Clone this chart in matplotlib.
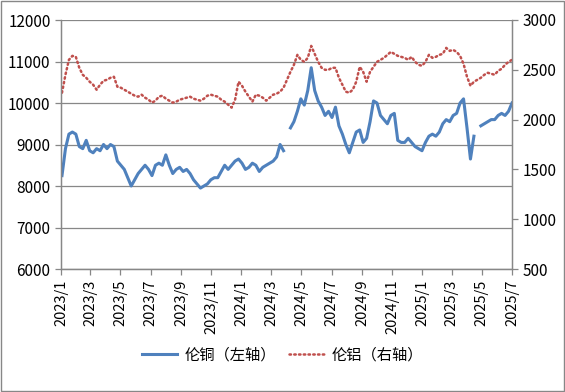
import matplotlib
matplotlib.use("Agg")
import matplotlib.pyplot as plt
import numpy as np
import pandas as pd

plt.rcParams['font.family'] = ['Noto Sans CJK SC', 'DejaVu Sans']

# weekly readings, 2023-01-03 .. 2025-07-01
dates = pd.date_range("2023-01-03", periods=131, freq="7D")

copper = [
    8250, 8900, 9250, 9300, 9250, 8950, 8900, 9100, 8850, 8800,
    8900, 8850, 9000, 8900, 9000, 8950, 8600, 8500, 8400, 8200,
    8000, 8150, 8300, 8400, 8500, 8400, 8250, 8500, 8550, 8500,
    8750, 8500, 8300, 8400, 8450, 8350, 8400, 8300, 8150, 8050,
    7950, 8000, 8050, 8150, 8200, 8200, 8350, 8500, 8400, 8500,
    8600, 8650, 8550, 8400, 8450, 8550, 8500, 8350, 8450, 8500,
    8550, 8600, 8700, 9000, 8850, np.nan, 9400, 9550, 9800, 10100,
    9950, 10300, 10850, 10300, 10050, 9900, 9700, 9800, 9650, 9900,
    9450, 9250, 9000, 8800, 9050, 9300, 9350, 9050, 9150, 9550,
    10050, 10000, 9700, 9600, 9500, 9700, 9750, 9100, 9050, 9050,
    9150, 9050, 8950, 8900, 8850, 9050, 9200, 9250, 9200, 9300,
    9500, 9600, 9550, 9700, 9750, 10000, 10100, 9400, 8650, 9200,
    np.nan, 9450, 9500, 9550, 9600, 9600, 9700, 9750, 9700, 9800,
    10000,
]

aluminium = [
    2270, 2450, 2600, 2640, 2630, 2520, 2450, 2420, 2380, 2350,
    2300, 2350, 2390, 2400, 2420, 2430, 2330, 2320, 2300, 2280,
    2260, 2240, 2230, 2250, 2220, 2200, 2170, 2190, 2230, 2240,
    2210, 2190, 2170, 2180, 2200, 2210, 2220, 2230, 2210, 2200,
    2190, 2210, 2240, 2250, 2240, 2230, 2200, 2180, 2150, 2120,
    2200, 2380, 2340, 2280, 2230, 2180, 2250, 2240, 2220, 2190,
    2220, 2250, 2260, 2280, 2320, 2400, 2480, 2550, 2650, 2600,
    2580, 2620, 2740, 2660, 2580, 2520, 2500, 2500, 2520, 2520,
    2420, 2350, 2280, 2270, 2300, 2380, 2530, 2480, 2380, 2480,
    2530, 2580, 2600, 2620, 2650, 2680, 2660, 2640, 2630, 2620,
    2600, 2630, 2580, 2550, 2540, 2580, 2650, 2620, 2630, 2650,
    2660, 2720, 2690, 2700, 2680, 2640, 2560, 2430, 2340, 2380,
    2400, 2420, 2450, 2470, 2460, 2450, 2490, 2510, 2550, 2580,
    2600,
]

BLUE = "#4F81BD"
RED = "#C0504D"
GRID = "#878787"

fig = plt.figure(figsize=(5.65, 3.92), dpi=100)
ax = fig.add_axes([61 / 565, 1 - 269 / 392, 451 / 565, 249 / 392])
ax2 = ax.twinx()

l1, = ax.plot(dates, copper, color=BLUE, lw=2.2, solid_joinstyle="round", label="伦铜（左轴）")
l2, = ax2.plot(dates, aluminium, color=RED, lw=1.8, linestyle=(0, (0.6, 1.3)),
               dash_capstyle="round", label="伦铝（右轴）")

ax.set_ylim(6000, 12000)
ax.set_yticks(np.arange(6000, 12001, 1000))
ax2.set_ylim(500, 3000)
ax2.set_yticks(np.arange(500, 3001, 500))
ax.set_xlim(pd.Timestamp("2023-01-01"), pd.Timestamp("2025-07-01"))

ticks = pd.date_range("2023-01-01", "2025-07-01", freq="2MS")
ax.set_xticks(ticks)
ax.set_xticklabels([f"{d.year}/{d.month}" for d in ticks], rotation=90)

ax.grid(axis="y", color=GRID, lw=0.9)
ax.set_axisbelow(True)
for a in (ax, ax2):
    for s in a.spines.values():
        s.set_color(GRID)
        s.set_linewidth(0.9)
    a.spines["top"].set_visible(False)
    a.tick_params(colors=GRID, labelcolor="black", length=4, width=0.9, labelsize=11)
ax.tick_params(axis="x", labelsize=10.5)

fig.legend([l1, l2], [l1.get_label(), l2.get_label()], loc="center",
           bbox_to_anchor=(0.5, 1 - 355 / 392), ncol=2, frameon=False,
           fontsize=11, handlelength=2.3, columnspacing=0.8, handletextpad=0.5)

fig.patches.append(plt.Rectangle((0.002, 0.002), 0.996, 0.996, transform=fig.transFigure,
                                 fill=False, edgecolor=GRID, lw=1))

fig.savefig("out.png", dpi=100)
